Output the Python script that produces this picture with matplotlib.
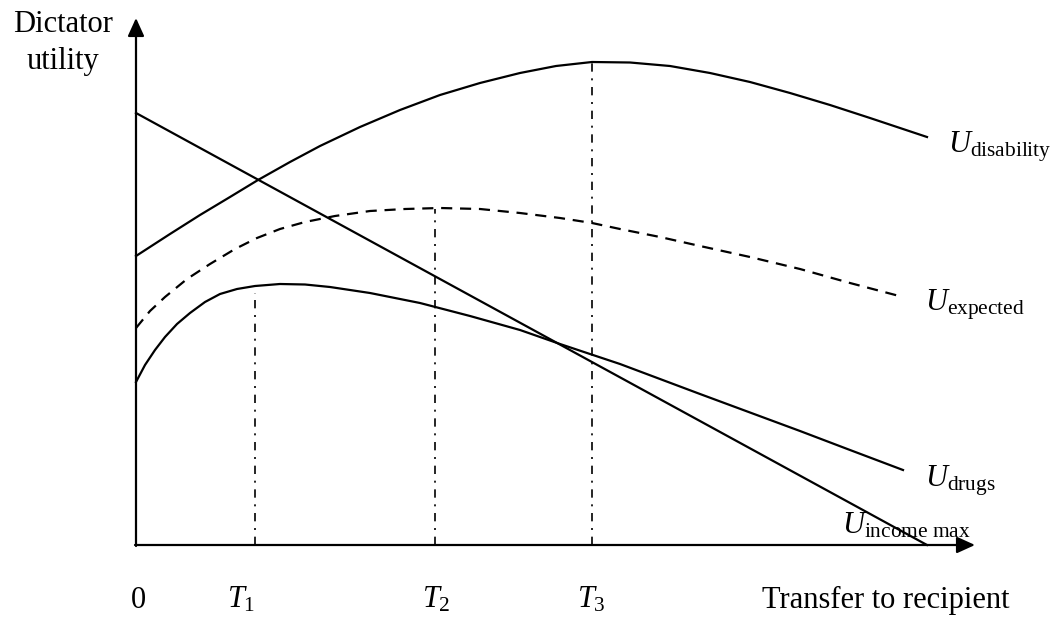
import matplotlib
matplotlib.use("Agg")
import matplotlib.pyplot as plt

plt.rcParams["font.family"] = "Liberation Serif"
plt.rcParams["mathtext.fontset"] = "custom"
plt.rcParams["mathtext.rm"] = "Liberation Serif"
plt.rcParams["mathtext.it"] = "Liberation Serif:italic"

# transfer (x) and utility (y), origin at the axes corner
income_x = [0, 791]
income_y = [432, 0]

disab_x = [0, 34, 64, 94, 122, 154, 184, 224, 264, 304, 344, 384, 420, 456,
           494, 534, 574, 614, 654, 694, 734, 764, 791]
disab_y = [289, 311, 330, 348, 365, 383, 399, 418, 435, 450, 462, 472, 479, 483,
           482.5, 479, 472, 463, 452, 440, 427, 417, 408]

expect_x = [0, 14, 29, 51, 74, 99, 121, 144, 169, 199, 234, 269, 304, 344,
            384, 424, 456, 484, 524, 564, 614, 664, 714, 767]
expect_y = [217, 234, 248, 266, 281, 296, 307, 316, 323, 329, 334, 336, 337, 336,
            332, 327, 322, 316, 308, 299, 288, 276, 262, 248]

drugs_x = [0, 9, 19, 29, 41, 54, 69, 84, 101, 119, 144, 169, 194, 234, 284,
           334, 384, 424, 484, 564, 664, 714, 767]
drugs_y = [163, 180, 195, 208, 221, 232, 243, 251, 256, 259, 261, 260.5, 258, 252, 242,
           229, 215, 201, 181, 151, 114, 95, 75]

t_pos = [119, 299, 456]
t_top = [252, 336, 483]
t_labels = [r"$T_1$", r"$T_2$", r"$T_3$"]

x_end = 839
y_end = 527

fig = plt.figure(figsize=(10.57, 6.25), dpi=100)
ax = fig.add_axes([0, 0, 1, 1])
ax.set_xlim(-136, 921)
ax.set_ylim(-80, 545)
ax.axis("off")

lw = 1.6
ax.plot(income_x, income_y, color="black", lw=lw)
ax.plot(disab_x, disab_y, color="black", lw=lw, solid_joinstyle="round")
ax.plot(expect_x, expect_y, color="black", lw=lw, dashes=(5, 3.5))
ax.plot(drugs_x, drugs_y, color="black", lw=lw, solid_joinstyle="round")

for x, top in zip(t_pos, t_top):
    ax.plot([x, x], [0, top], color="black", lw=1.2, dashes=(5, 4, 1.2, 4))

# axes with arrow heads
arrow = dict(arrowstyle="-|>,head_length=1.1,head_width=0.5", color="black", lw=1.6,
             shrinkA=0, shrinkB=0)
ax.annotate("", xy=(x_end, 0), xytext=(-1, 0), arrowprops=arrow)
ax.annotate("", xy=(0, y_end), xytext=(0, -1), arrowprops=arrow)

fs = 22
ax.text(-73, 520, "Dictator", fontsize=fs, ha="center", va="center")
ax.text(-73, 483, "utility", fontsize=fs, ha="center", va="center")

ax.text(2, -55, "0", fontsize=fs, ha="center", va="center")
for x, lab in zip([105, 300, 455], t_labels):
    ax.text(x, -55, lab, fontsize=fs, ha="center", va="center")
ax.text(874, -55, "Transfer to recipient", fontsize=fs, ha="right", va="center")

ax.text(812, 392, r"$U_{\mathrm{disability}}$", fontsize=fs, ha="left", va="baseline")
ax.text(789, 235, r"$U_{\mathrm{expected}}$", fontsize=fs, ha="left", va="baseline")
ax.text(789, 59, r"$U_{\mathrm{drugs}}$", fontsize=fs, ha="left", va="baseline")
ax.text(706, 11, r"$U_{\mathrm{income\ max}}$", fontsize=fs, ha="left", va="baseline")

fig.savefig("out.png", dpi=100)
